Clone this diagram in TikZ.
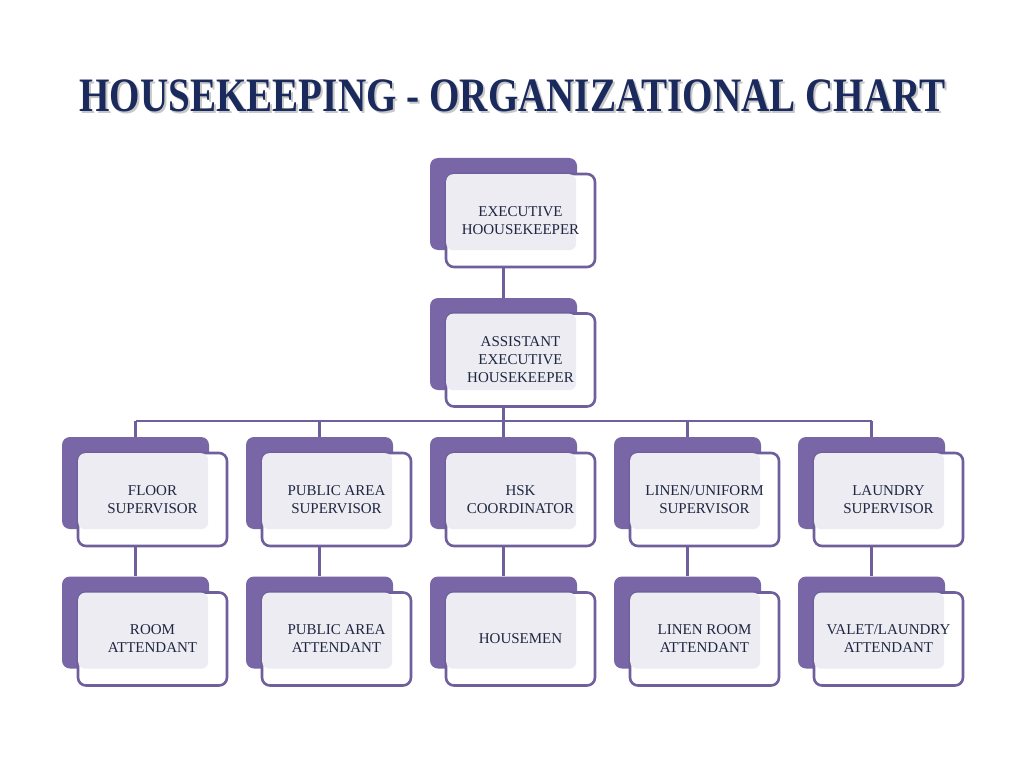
\documentclass[tikz,border=0pt]{standalone}
\usepackage{fontspec}
\setmainfont{Liberation Serif}
\definecolor{backpurple}{HTML}{7866A6}
\definecolor{linepurple}{HTML}{6F5F9C}
\definecolor{lav}{HTML}{EDECF2}
\definecolor{boxtext}{HTML}{1E2640}
\definecolor{titlenavy}{HTML}{1B2A5C}
\begin{document}
\begin{tikzpicture}[x=1pt,y=-1pt,
  backbox/.style={rectangle,rounded corners=8pt,fill=backpurple,minimum width=147pt,minimum height=92pt,inner sep=0pt},
  frontbox/.style={rectangle,rounded corners=8pt,draw=linepurple,line width=2.6pt,fill=white,minimum width=149pt,minimum height=93pt,inner sep=0pt},
  lbl/.style={text=boxtext,align=center,font=\fontsize{15}{18}\selectfont},
  conn/.style={draw=linepurple,line width=2.4pt}]
\useasboundingbox[fill=white] (0,0) rectangle (1024,767);
% title
\node[text=black!22,font=\fontsize{48}{52}\bfseries\selectfont] (titleshadow) at (514.5,98) {\scalebox{0.815}[1]{HOUSEKEEPING - ORGANIZATIONAL CHART}};
\node[text=titlenavy,font=\fontsize{48}{52}\bfseries\selectfont] (title) at (512.5,96) {\scalebox{0.815}[1]{HOUSEKEEPING - ORGANIZATIONAL CHART}};
% boxes
\foreach \nm/\cx/\by/\fy/\txt in {
  exec/503.5/204/220.5/{EXECUTIVE\\HOOUSEKEEPER},
  asst/503.5/344/360/{ASSISTANT\\EXECUTIVE\\HOUSEKEEPER},
  floor/135.5/483/499.5/{FLOOR\\SUPERVISOR},
  public/319.5/483/499.5/{PUBLIC AREA\\SUPERVISOR},
  hsk/503.5/483/499.5/{HSK\\COORDINATOR},
  linen/687.5/483/499.5/{LINEN/UNIFORM\\SUPERVISOR},
  laundry/871.5/483/499.5/{LAUNDRY\\SUPERVISOR},
  room/135.5/622.5/639/{ROOM\\ATTENDANT},
  publicatt/319.5/622.5/639/{PUBLIC AREA\\ATTENDANT},
  housemen/503.5/622.5/639/{HOUSEMEN},
  linenatt/687.5/622.5/639/{LINEN ROOM\\ATTENDANT},
  valet/871.5/622.5/639/{VALET/LAUNDRY\\ATTENDANT}}{
  \node[backbox] (\nm-b) at (\cx,\by) {};
  \node[frontbox] (\nm-f) at (\cx+17,\fy) {};
  \fill[lav,rounded corners=7pt] ([xshift=1.5pt,yshift=-1.5pt]\nm-f.north west) rectangle ([xshift=-1pt]\nm-b.south east);
  \node[lbl] (\nm-t) at (\nm-f.center) {\txt};
}
% connectors
\draw[conn] (exec-f.south -| exec-b.center) -- (asst-b.north);
\coordinate (bus) at (503.5,421);
\draw[conn] (asst-f.south -| asst-b.center) -- (bus);
\draw[conn] (bus -| floor-b.center) -- (bus -| laundry-b.center);
\foreach \nm in {floor,public,hsk,linen,laundry}{
  \draw[conn] (bus -| \nm-b.center) -- (\nm-b.north);
}
\foreach \a/\b in {floor/room,public/publicatt,hsk/housemen,linen/linenatt,laundry/valet}{
  \draw[conn] (\a-f.south -| \a-b.center) -- (\b-b.north);
}
\end{tikzpicture}
\end{document}
